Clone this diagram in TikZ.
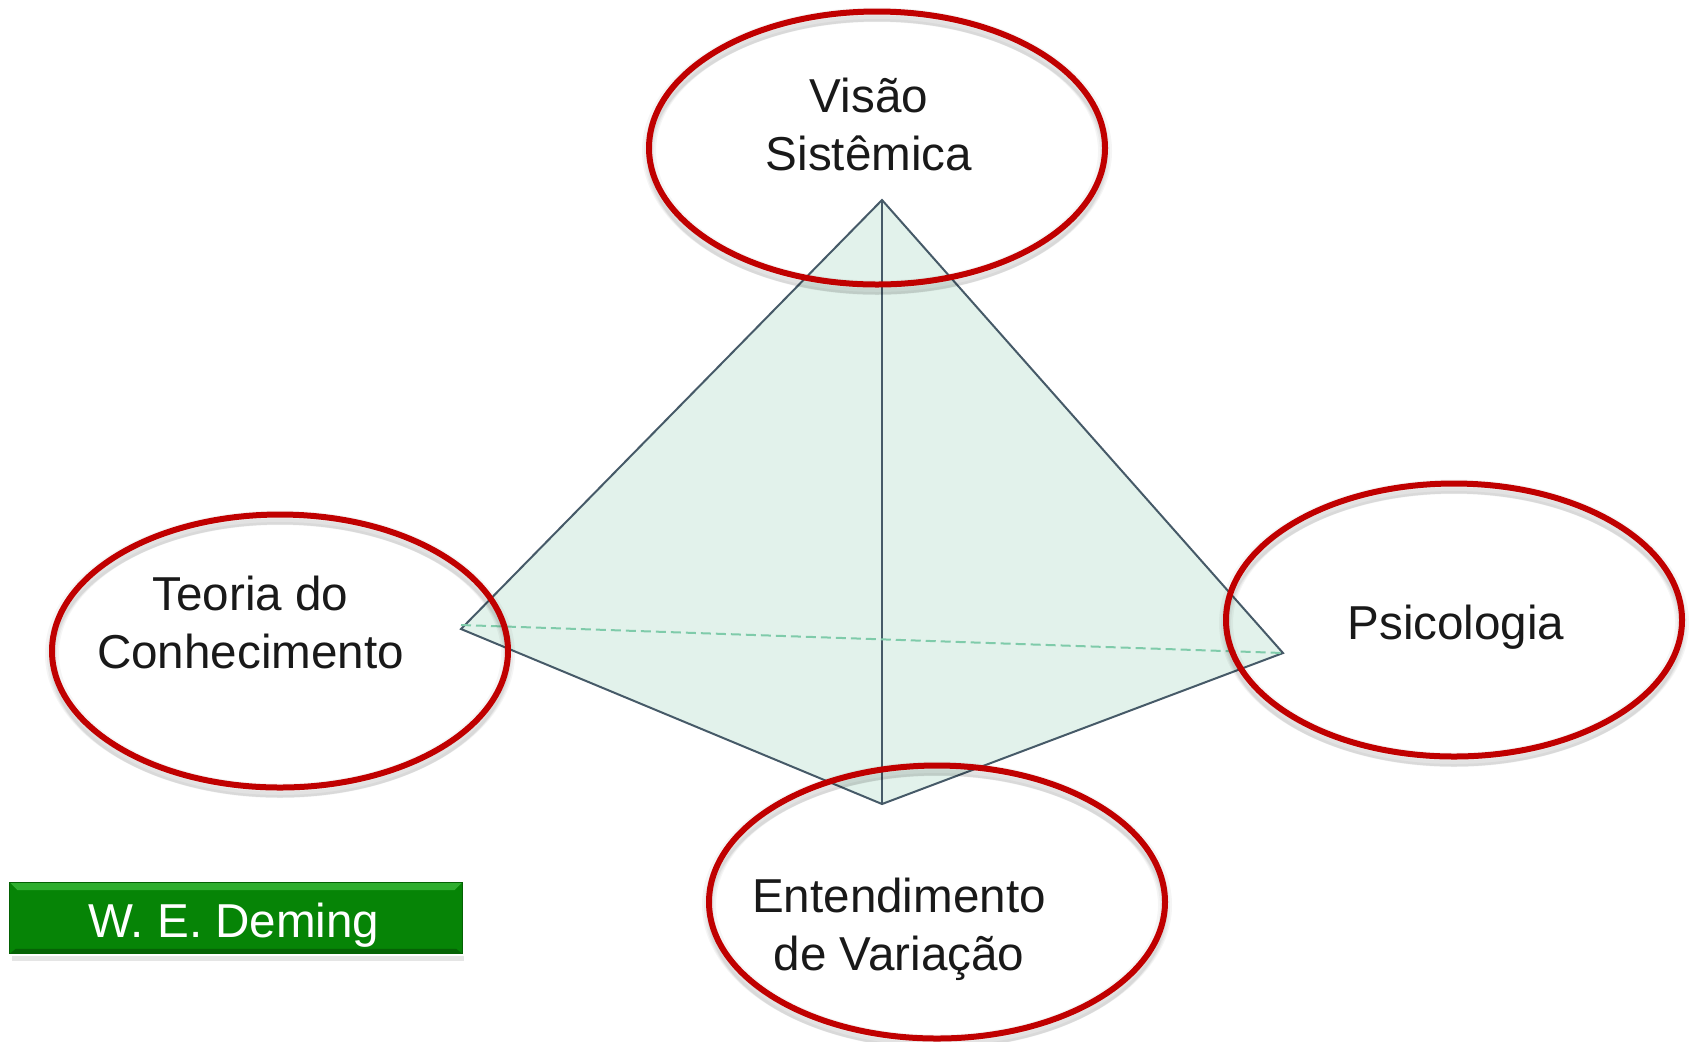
\documentclass[tikz,border=0pt]{standalone}
\usepackage{fontspec}
\setmainfont{Liberation Sans}
\usetikzlibrary{shapes.geometric, calc}
\definecolor{pyrfill}{HTML}{E2F2EB}
\definecolor{pyrline}{HTML}{465A68}
\definecolor{pyrdash}{HTML}{7FCBAA}
\definecolor{ringred}{HTML}{C00000}
\definecolor{boxgreen}{HTML}{068406}
\definecolor{boxlight}{HTML}{2FAE2F}
\definecolor{boxdark}{HTML}{056205}
\tikzset{
  ring/.style={ellipse, draw=ringred, line width=3pt, minimum width=228pt, minimum height=136.5pt, inner sep=0pt},
  ringshadow/.style={ellipse, draw=black, opacity=.04, minimum width=228pt, minimum height=136.5pt, inner sep=0pt},
  label/.style={align=center, font=\fontsize{23.8}{29}\selectfont, text=black!90},
  edge/.style={draw=pyrline, line width=1pt},
}
\begin{document}
\begin{tikzpicture}[x=.5pt, y=-.5pt]
  \useasboundingbox (0,0) rectangle (1690,1041);
  % corners of the pyramid
  \coordinate (apex) at (882,200);
  \coordinate (west) at (461,629);
  \coordinate (east) at (1283,653);
  \coordinate (south) at (882,804);
  \coordinate (back) at (461,625);
  \fill[pyrfill] (apex) -- (east) -- (south) -- (west) -- cycle;
  \draw[edge] (apex) -- (west) -- (south) -- (east) -- cycle;
  \draw[edge] (apex) -- (south);
  \draw[pyrdash, line width=1pt, dash pattern=on 5pt off 2.5pt] (back) -- (east);
  % soft shade under the rings
  \foreach \cx/\cy in {877/148, 280/651, 1454/620, 937/902} {
    \foreach \off/\wid in {3/7pt, 5/5pt, 7/3pt, 9/1.5pt}
      \node[ringshadow, line width=\wid] at (\cx,\cy+\off) {};
  }
  \node[ring] (visao) at (877,148) {};
  \node[ring] (teoria) at (280,651) {};
  \node[ring] (psico) at (1454,620) {};
  \node[ring] (variacao) at (937,902) {};
  \node[label] (visaotext) at (869,124) {Visão\\Sistêmica};
  \node[label] (teoriatext) at (250.5,622.5) {Teoria do\\Conhecimento};
  \node[label] (psicotext) at (1456,627.5) {Psicologia};
  \node[label] (variacaotext) at (899,929) {Entendimento\\de Variação};
  % name box with its bevel
  \fill[black, opacity=.1] (12,956) rectangle (464,961);
  \node[rectangle, fill=boxgreen, minimum width=226pt, minimum height=35.5pt, inner sep=0pt] (deming) at (236,918) {};
  \fill[boxlight] (deming.north west) -- (deming.north east) -- ++(-8,8) -- ($(deming.north west)+(8,8)$) -- cycle;
  \fill[boxdark] (deming.south west) -- (deming.south east) -- ++(-6,-5) -- ($(deming.south west)+(6,-5)$) -- cycle;
  \draw[boxdark, line width=.5pt] (deming.north west) rectangle (deming.south east);
  \node[label, text=white] (demingtext) at (234,925.5) {W. E. Deming};
\end{tikzpicture}
\end{document}
